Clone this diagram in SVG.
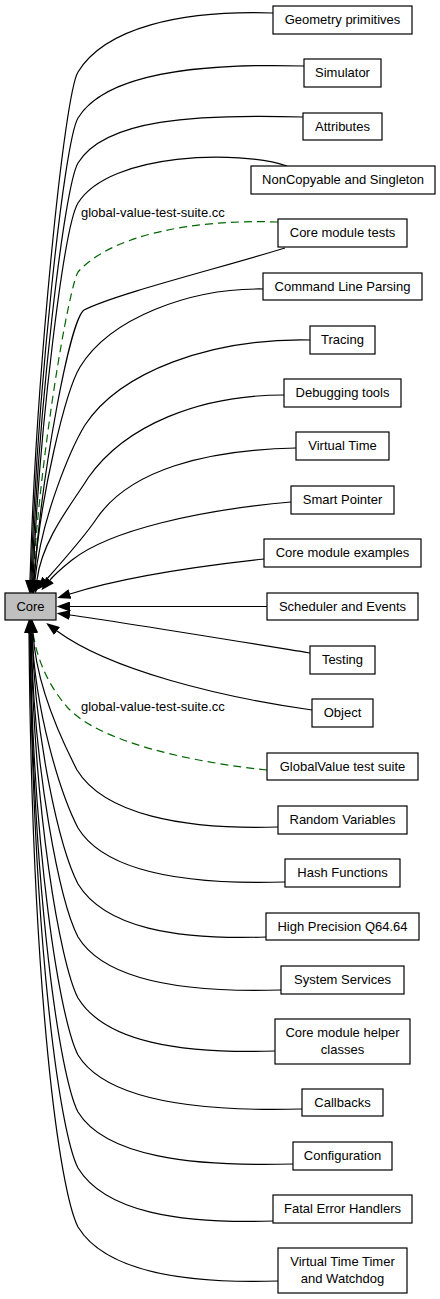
<svg xmlns="http://www.w3.org/2000/svg" width="440" height="1299" viewBox="0 0 440 1299">
<style>
.n rect{fill:#fff;stroke:#000;stroke-width:1.2}
#core rect{fill:#bfbfbf}
text{font-family:"Liberation Sans",Arial,Helvetica,sans-serif;font-size:13px;fill:#000}
.n text{text-anchor:middle}
.e path{fill:none;stroke:#000;stroke-width:1.2}
.e path.d{stroke:#006400;stroke-dasharray:8,5}
</style>
<defs>
<marker id="ah" viewBox="0 0 14 10" refX="0" refY="5" markerWidth="14" markerHeight="10" orient="auto" markerUnits="userSpaceOnUse"><path d="M0,0 L13.5,5 L0,10 Z" fill="#000"/></marker>
<marker id="ag" viewBox="0 0 14 10" refX="0" refY="5" markerWidth="14" markerHeight="10" orient="auto" markerUnits="userSpaceOnUse"><path d="M0,0 L13.5,5 L0,10 Z" fill="#006400"/></marker>
</defs>
<g id="edges" class="e">
<path class="d" marker-end="url(#ag)" d="M278,222 C190,219 110,236 78,272 C68,290 40,457 33,580"/>
<path class="d" marker-end="url(#ag)" d="M267,770 C190,762 100,742 68,708 C52,690 38,665 33,633"/>
<path marker-end="url(#ah)" d="M273,13 C180,10 105,28 78,72 C64,95 36,377 30,580"/>
<path marker-end="url(#ah)" d="M304,66 C195,63 105,74 78,118 C64,141 37,395 31,580"/>
<path marker-end="url(#ah)" d="M303,117 C195,114 105,119 78,163 C64,186 38,413 32,580"/>
<path marker-end="url(#ah)" d="M287,166 C240,150 110,152 78,203 C64,226 39,429 33,580"/>
<path marker-end="url(#ah)" d="M285,248 C220,268 115,294 84,310 C70,320 42,470 34,580"/>
<path marker-end="url(#ah)" d="M263,289 C190,288 110,318 80,367 C66,390 40,495 34,580"/>
<path marker-end="url(#ah)" d="M310,340 C210,338 120,372 85,425 C71,448 41,518 35,580"/>
<path marker-end="url(#ah)" d="M284,395 C200,395 125,425 88,478 C74,501 42,539 37,580"/>
<path marker-end="url(#ah)" d="M296,448 C205,450 130,470 97,518 C85,536 62,562 46,580"/>
<path marker-end="url(#ah)" d="M291,502 C200,510 110,530 72,560 C62,568 55,574 50,580"/>
<path marker-end="url(#ah)" d="M264,559 C200,566 120,578 70,594"/>
<path marker-end="url(#ah)" d="M267,606.5 L70,606.5"/>
<path marker-end="url(#ah)" d="M310,653 C230,640 120,622 70,615"/>
<path marker-end="url(#ah)" d="M312,710 C220,697 110,670 57,631"/>
<path marker-end="url(#ah)" d="M278,827 C182,830 104,814 77,770 C59,735 36,684 33,633"/>
<path marker-end="url(#ah)" d="M285,882 C186,885 105,872 78,828 C60,793 35,711 32,633"/>
<path marker-end="url(#ah)" d="M266,937 C176,940 105,928 78,884 C60,849 35,741 32,633"/>
<path marker-end="url(#ah)" d="M281,990 C184,993 105,981 78,937 C60,902 34,773 31,633"/>
<path marker-end="url(#ah)" d="M275,1051 C180,1054 105,1042 78,998 C60,963 34,813 31,633"/>
<path marker-end="url(#ah)" d="M302,1109 C194,1112 105,1099 78,1055 C60,1020 33,855 30,633"/>
<path marker-end="url(#ah)" d="M293,1164 C190,1167 105,1156 78,1112 C60,1077 33,899 30,633"/>
<path marker-end="url(#ah)" d="M273,1221 C179,1224 105,1212 78,1168 C60,1133 33,947 30,633"/>
<path marker-end="url(#ah)" d="M278,1281 C182,1284 105,1271 78,1227 C60,1192 32,1001 29,633"/>
<text x="81" y="217">global-value-test-suite.cc</text>
<text x="81" y="711">global-value-test-suite.cc</text>
</g>
<g id="core" class="n"><rect x="5" y="593" width="51" height="27"/><text x="30.5" y="610.5">Core</text></g>
<g id="n1" class="n"><rect x="273" y="6" width="139" height="28"/><text x="342.5" y="24">Geometry primitives</text></g>
<g id="n2" class="n"><rect x="304" y="59" width="77" height="28"/><text x="342.5" y="77">Simulator</text></g>
<g id="n3" class="n"><rect x="303" y="113" width="79" height="27"/><text x="342.5" y="130.5">Attributes</text></g>
<g id="n4" class="n"><rect x="251" y="166" width="184" height="28"/><text x="343" y="184">NonCopyable and Singleton</text></g>
<g id="n5" class="n"><rect x="278" y="219" width="129" height="28"/><text x="342.5" y="237">Core module tests</text></g>
<g id="n6" class="n"><rect x="263" y="273" width="159" height="27"/><text x="342.5" y="290.5">Command Line Parsing</text></g>
<g id="n7" class="n"><rect x="310" y="326" width="65" height="28"/><text x="342.5" y="344">Tracing</text></g>
<g id="n8" class="n"><rect x="284" y="379" width="117" height="28"/><text x="342.5" y="397">Debugging tools</text></g>
<g id="n9" class="n"><rect x="296" y="432" width="93" height="28"/><text x="342.5" y="450">Virtual Time</text></g>
<g id="n10" class="n"><rect x="291" y="486" width="103" height="28"/><text x="342.5" y="504">Smart Pointer</text></g>
<g id="n11" class="n"><rect x="264" y="539" width="157" height="28"/><text x="342.5" y="557">Core module examples</text></g>
<g id="n12" class="n"><rect x="267" y="593" width="151" height="27"/><text x="342.5" y="610.5">Scheduler and Events</text></g>
<g id="n13" class="n"><rect x="310" y="646" width="65" height="28"/><text x="342.5" y="664">Testing</text></g>
<g id="n14" class="n"><rect x="312" y="699" width="61" height="28"/><text x="342.5" y="717">Object</text></g>
<g id="n15" class="n"><rect x="267" y="753" width="151" height="27"/><text x="342.5" y="770.5">GlobalValue test suite</text></g>
<g id="n16" class="n"><rect x="278" y="806" width="129" height="28"/><text x="342.5" y="824">Random Variables</text></g>
<g id="n17" class="n"><rect x="285" y="859" width="115" height="28"/><text x="342.5" y="877">Hash Functions</text></g>
<g id="n18" class="n"><rect x="266" y="913" width="153" height="27"/><text x="342.5" y="930.5">High Precision Q64.64</text></g>
<g id="n19" class="n"><rect x="281" y="966" width="123" height="28"/><text x="342.5" y="984">System Services</text></g>
<g id="n20" class="n"><rect x="275" y="1019" width="135" height="45"/><text x="342.5" y="1036.5">Core module helper</text><text x="342.5" y="1053.5">classes</text></g>
<g id="n21" class="n"><rect x="302" y="1089" width="81" height="27"/><text x="342.5" y="1106.5">Callbacks</text></g>
<g id="n22" class="n"><rect x="293" y="1142" width="99" height="28"/><text x="342.5" y="1160">Configuration</text></g>
<g id="n23" class="n"><rect x="273" y="1195" width="139" height="28"/><text x="342.5" y="1213">Fatal Error Handlers</text></g>
<g id="n24" class="n"><rect x="278" y="1248" width="129" height="45"/><text x="342.5" y="1266">Virtual Time Timer</text><text x="342.5" y="1283">and Watchdog</text></g>
</svg>
